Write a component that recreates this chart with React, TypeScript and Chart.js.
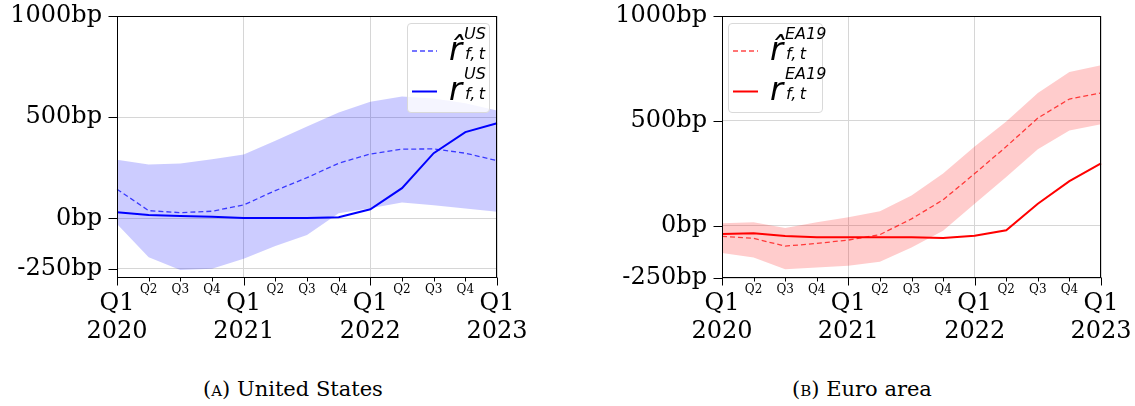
import React, { useEffect, useRef } from "react";
import { Chart, registerables } from "chart.js";

Chart.register(...registerables);

// ---------- data ----------
const categories = [
  "2020Q1", "2020Q2", "2020Q3", "2020Q4",
  "2021Q1", "2021Q2", "2021Q3", "2021Q4",
  "2022Q1", "2022Q2", "2022Q3", "2022Q4",
  "2023Q1",
];
const quarterLabels = ["Q1", "Q2", "Q3", "Q4", "Q1", "Q2", "Q3", "Q4", "Q1", "Q2", "Q3", "Q4", "Q1"];
const yearLabels = ["2020", "", "", "", "2021", "", "", "", "2022", "", "", "", "2023"];
const yTickValues = [-250, 0, 500, 1000];

// United States (bp)
const usActual = [30, 16, 12, 8, 2, 2, 2, 5, 45, 149, 322, 426, 470];
const usForecast = [144, 38, 28, 35, 66, 137, 201, 272, 318, 342, 343, 322, 285];
const usUpper = [289, 266, 271, 292, 315, 384, 454, 523, 576, 602, 592, 569, 533];
const usLower = [-28, -193, -256, -249, -200, -137, -83, 25, 50, 78, 64, 48, 33];

// Euro area (bp)
const eaActual = [-40, -37, -50, -55, -56, -56, -56, -59, -48, -22, 104, 212, 297];
const eaForecast = [-51, -61, -98, -85, -69, -43, 32, 123, 248, 377, 513, 604, 633];
const eaUpper = [11, 16, -11, 16, 40, 69, 144, 248, 377, 497, 633, 733, 765];
const eaLower = [-131, -152, -208, -200, -192, -172, -104, -24, 104, 232, 364, 454, 484];

// ---------- styling ----------
const SERIF = "'DejaVu Serif', serif";
const SANS = "'DejaVu Sans', sans-serif";
const GRID = "#d6d6d6";

const framePlugin = {
  id: "frame",
  afterDatasetsDraw(chart: any) {
    const { ctx, chartArea: a, scales } = chart;
    ctx.save();
    ctx.strokeStyle = "#000";
    ctx.lineWidth = 1;
    const L = Math.round(a.left) + 0.5;
    const R = Math.round(a.right) - 0.5;
    const T = Math.round(a.top) + 0.5;
    const B = Math.round(a.bottom) - 0.5;
    ctx.strokeRect(L, T, R - L, B - T);
    ctx.beginPath();
    for (let i = 0; i < categories.length; i++) {
      const px = Math.round(scales.x.getPixelForValue(i)) + 0.5;
      const len = i % 4 === 0 ? 8 : 4;
      ctx.moveTo(px, B);
      ctx.lineTo(px, B + len);
    }
    for (const v of yTickValues) {
      const py = Math.round(scales.y.getPixelForValue(v)) + 0.5;
      ctx.moveTo(L - 9, py);
      ctx.lineTo(L, py);
    }
    ctx.stroke();
    ctx.restore();
  },
};

type PanelProps = {
  left: number;
  width: number;
  axisWidth: number;
  padRight: number;
  yMin: number;
  actual: number[];
  forecast: number[];
  upper: number[];
  lower: number[];
  solid: string;
  dashed: string;
  fill: string;
};

function Panel(p: PanelProps) {
  const ref = useRef<HTMLCanvasElement | null>(null);
  useEffect(() => {
    if (!ref.current) return;
    const chart = new Chart(ref.current, {
      type: "line",
      data: {
        labels: categories,
        datasets: [
          { data: p.actual, borderColor: p.solid, borderWidth: 2, pointRadius: 0, fill: false },
          { data: p.forecast, borderColor: p.dashed, borderWidth: 1.3, borderDash: [5, 3], pointRadius: 0, fill: false },
          { data: p.upper, borderWidth: 0, borderColor: "rgba(0,0,0,0)", backgroundColor: p.fill, pointRadius: 0, fill: "+1" },
          { data: p.lower, borderWidth: 0, borderColor: "rgba(0,0,0,0)", pointRadius: 0, fill: false },
        ],
      },
      options: {
        responsive: false,
        animation: false,
        events: [],
        layout: { padding: { top: 16, right: p.padRight, left: 0, bottom: 0 } },
        elements: { line: { tension: 0 }, point: { radius: 0 } },
        plugins: { legend: { display: false }, tooltip: { enabled: false } },
        scales: {
          x: {
            type: "category",
            offset: false,
            border: { display: false },
            grid: {
              offset: false,
              drawTicks: false,
              lineWidth: 1,
              color: (c: any) => (c.index % 4 === 0 ? GRID : "rgba(0,0,0,0)"),
            },
            ticks: {
              autoSkip: false,
              maxRotation: 0,
              minRotation: 0,
              padding: 12,
              color: "#000",
              font: (c: any) =>
                c.index % 4 === 0
                  ? { family: SERIF, size: 24, lineHeight: 1.15 }
                  : { family: SERIF, size: 12, lineHeight: 0.05 },
              callback: (_v: any, i: number) =>
                i % 4 === 0 ? [quarterLabels[i], yearLabels[i]] : quarterLabels[i],
            },
            afterFit: (s: any) => {
              s.height = 345 - 278;
              s.paddingLeft = 0;
              s.paddingRight = 0;
            },
          },
          y: {
            min: p.yMin,
            max: 1000,
            border: { display: false },
            grid: { drawTicks: false, color: GRID, lineWidth: 1 },
            afterBuildTicks: (s: any) => {
              s.ticks = yTickValues.map((v) => ({ value: v }));
            },
            ticks: {
              padding: 15,
              color: "#000",
              font: { family: SERIF, size: 24 },
              callback: (v: any) => `${v}bp`,
            },
            afterFit: (s: any) => {
              s.width = p.axisWidth;
              s.paddingTop = 0;
              s.paddingBottom = 0;
            },
          },
        },
      },
      plugins: [framePlugin],
    });
    return () => chart.destroy();
  }, []);
  return (
    <canvas
      ref={ref}
      width={p.width}
      height={345}
      style={{ position: "absolute", left: p.left, top: 0, width: p.width, height: 345 }}
    />
  );
}

function MathLabel({ sup, hat }: { sup: string; hat: boolean }) {
  return (
    <span style={{ position: "absolute", left: 0, top: 0 }}>
      <span style={{ position: "absolute", left: 0, top: 0, fontFamily: SANS, fontStyle: "italic", fontSize: 32, lineHeight: 1, whiteSpace: "nowrap" }}>
        {hat ? "r\u0302" : "r"}
      </span>
      <span style={{ position: "absolute", left: 15, top: -7, fontFamily: SANS, fontStyle: "italic", fontSize: 16, lineHeight: 1, whiteSpace: "nowrap" }}>
        {sup}
      </span>
      <span style={{ position: "absolute", left: 16, top: 13, fontFamily: SANS, fontStyle: "italic", fontSize: 16, lineHeight: 1, whiteSpace: "nowrap" }}>
        {"f,\u2009t"}
      </span>
    </span>
  );
}

function LegendBox({ left, width, sup, solid, dashed }: { left: number; width: number; sup: string; solid: string; dashed: string }) {
  return (
    <div
      style={{
        position: "absolute",
        left,
        top: 23,
        width,
        height: 90,
        boxSizing: "border-box",
        background: "rgba(255,255,255,0.8)",
        border: "1px solid #d9d9d9",
        borderRadius: 4,
      }}
    >
      <svg width={width} height={90} style={{ position: "absolute", left: -1, top: -1 }}>
        <line x1={5} x2={30} y1={28} y2={28} stroke={dashed} strokeWidth={1.3} strokeDasharray="5 3" />
        <line x1={5} x2={30} y1={68.5} y2={68.5} stroke={solid} strokeWidth={2} />
      </svg>
      <div style={{ position: "absolute", left: 41, top: 9 }}>
        <MathLabel sup={sup} hat={true} />
      </div>
      <div style={{ position: "absolute", left: 41, top: 49 }}>
        <MathLabel sup={sup} hat={false} />
      </div>
    </div>
  );
}

export default function App() {
  return (
    <div style={{ position: "absolute", left: 0, top: 0, width: 1135, height: 406, background: "#fff", overflow: "hidden" }}>
      <Panel
        left={0}
        width={560}
        axisWidth={117}
        padRight={63}
        yMin={-295}
        actual={usActual}
        forecast={usForecast}
        upper={usUpper}
        lower={usLower}
        solid="#0000ff"
        dashed="rgba(0,0,255,0.72)"
        fill="rgba(0,0,255,0.2)"
      />
      <Panel
        left={567}
        width={568}
        axisWidth={155}
        padRight={34}
        yMin={-250}
        actual={eaActual}
        forecast={eaForecast}
        upper={eaUpper}
        lower={eaLower}
        solid="#ff0000"
        dashed="rgba(255,0,0,0.72)"
        fill="rgba(255,0,0,0.2)"
      />
      <LegendBox left={407} width={83} sup="US" solid="#0000ff" dashed="rgba(0,0,255,0.72)" />
      <LegendBox left={728} width={95} sup="EA19" solid="#ff0000" dashed="rgba(255,0,0,0.72)" />
      <div style={{ position: "absolute", left: 93, width: 400, top: 376, textAlign: "center", fontFamily: SERIF, fontSize: 21, lineHeight: "26px", color: "#000" }}>
        <span style={{ fontVariant: "small-caps" }}>(a)</span> United States
      </div>
      <div style={{ position: "absolute", left: 662, width: 400, top: 376, textAlign: "center", fontFamily: SERIF, fontSize: 21, lineHeight: "26px", color: "#000" }}>
        <span style={{ fontVariant: "small-caps" }}>(b)</span> Euro area
      </div>
    </div>
  );
}
